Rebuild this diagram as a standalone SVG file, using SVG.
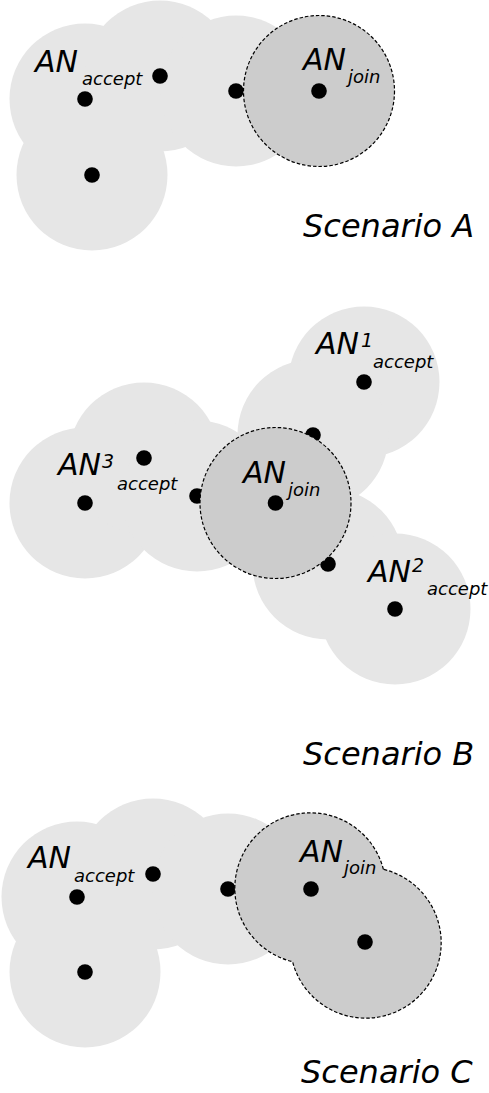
<svg xmlns="http://www.w3.org/2000/svg" width="489" height="1093" viewBox="0 0 489 1093">
  <style>
    .cov { fill: #e6e6e6; }
    .join { fill: #cccccc; stroke: #000; stroke-width: 1.2; stroke-dasharray: 3.5 2; }
    .dot { fill: #000; }
    text { font-family: "DejaVu Sans", "Liberation Sans", sans-serif; font-style: italic; fill: #000; }
    .big { font-size: 30px; }
    .sub { font-size: 18px; }
    .sup { font-size: 19px; }
    .title { font-size: 32px; }
  </style>

  <!-- Scenario A -->
  <g id="scenario-a">
    <g id="a-coverage">
      <circle class="cov" cx="85" cy="99" r="75.5"/>
      <circle class="cov" cx="160" cy="76" r="75.5"/>
      <circle class="cov" cx="236" cy="91" r="75.5"/>
      <circle class="cov" cx="92" cy="175" r="75.5"/>
    </g>
    <g id="a-node-accept"><circle class="dot" cx="85" cy="99" r="7.8"/></g>
    <g id="a-node-2"><circle class="dot" cx="160" cy="76" r="7.8"/></g>
    <g id="a-node-3"><circle class="dot" cx="236" cy="91" r="7.8"/></g>
    <g id="a-node-4"><circle class="dot" cx="92" cy="175" r="7.8"/></g>
    <g id="a-node-join">
      <circle class="join" cx="319" cy="91" r="75.5"/>
      <circle class="dot" cx="319" cy="91" r="7.8"/>
    </g>
    <g id="a-labels">
      <text class="big" x="35" y="72">AN</text>
      <text class="sub" x="82" y="85">accept</text>
      <text class="big" x="303" y="70">AN</text>
      <text class="sub" x="348" y="83">join</text>
      <text class="title" x="303" y="237">Scenario A</text>
    </g>
  </g>

  <!-- Scenario B -->
  <g id="scenario-b">
    <g id="b-coverage">
      <circle class="cov" cx="364" cy="382" r="75.5"/>
      <circle class="cov" cx="313" cy="435" r="75.5"/>
      <circle class="cov" cx="85" cy="503" r="75.5"/>
      <circle class="cov" cx="144" cy="458" r="75.5"/>
      <circle class="cov" cx="197" cy="496" r="75.5"/>
      <circle class="cov" cx="328" cy="564" r="75.5"/>
      <circle class="cov" cx="395" cy="609" r="75.5"/>
    </g>
    <g id="b-node-accept1"><circle class="dot" cx="364" cy="382" r="7.8"/></g>
    <g id="b-node-2"><circle class="dot" cx="313" cy="435" r="7.8"/></g>
    <g id="b-node-accept3"><circle class="dot" cx="85" cy="503" r="7.8"/></g>
    <g id="b-node-4"><circle class="dot" cx="144" cy="458" r="7.8"/></g>
    <g id="b-node-5"><circle class="dot" cx="197" cy="496" r="7.8"/></g>
    <g id="b-node-6"><circle class="dot" cx="328" cy="564" r="7.8"/></g>
    <g id="b-node-accept2"><circle class="dot" cx="395" cy="609" r="7.8"/></g>
    <g id="b-node-join">
      <circle class="join" cx="275.5" cy="503" r="75.5"/>
      <circle class="dot" cx="275.5" cy="503" r="7.8"/>
    </g>
    <g id="b-labels">
      <text class="big" x="316" y="354">AN</text>
      <text class="sup" x="361" y="347">1</text>
      <text class="sub" x="373" y="368">accept</text>
      <text class="big" x="58" y="475">AN</text>
      <text class="sup" x="102" y="468">3</text>
      <text class="sub" x="117" y="490">accept</text>
      <text class="big" x="243" y="483">AN</text>
      <text class="sub" x="288" y="496">join</text>
      <text class="big" x="368" y="582">AN</text>
      <text class="sup" x="412" y="572">2</text>
      <text class="sub" x="427" y="595">accept</text>
      <text class="title" x="303" y="765">Scenario B</text>
    </g>
  </g>

  <!-- Scenario C -->
  <g id="scenario-c">
    <g id="c-coverage">
      <circle class="cov" cx="77" cy="897" r="75.5"/>
      <circle class="cov" cx="153" cy="874" r="75.5"/>
      <circle class="cov" cx="228" cy="889" r="75.5"/>
      <circle class="cov" cx="85" cy="972" r="75.5"/>
    </g>
    <g id="c-node-accept"><circle class="dot" cx="77" cy="897" r="7.8"/></g>
    <g id="c-node-2"><circle class="dot" cx="153" cy="874" r="7.8"/></g>
    <g id="c-node-3"><circle class="dot" cx="228" cy="889" r="7.8"/></g>
    <g id="c-node-4"><circle class="dot" cx="85" cy="972" r="7.8"/></g>
    <g id="c-node-join">
      <!-- union of the two joining coverage disks -->
      <path class="join" d="M383.4,869.3 A75.5,75.5 0 1 0 292.6,961.7 A75.5,75.5 0 1 0 383.4,869.3 Z"/>
      <circle class="dot" cx="311" cy="889" r="7.8"/>
      <circle class="dot" cx="365" cy="942" r="7.8"/>
    </g>
    <g id="c-labels">
      <text class="big" x="28" y="868">AN</text>
      <text class="sub" x="74" y="882">accept</text>
      <text class="big" x="300" y="862">AN</text>
      <text class="sub" x="344" y="874">join</text>
      <text class="title" x="301" y="1083">Scenario C</text>
    </g>
  </g>
</svg>
